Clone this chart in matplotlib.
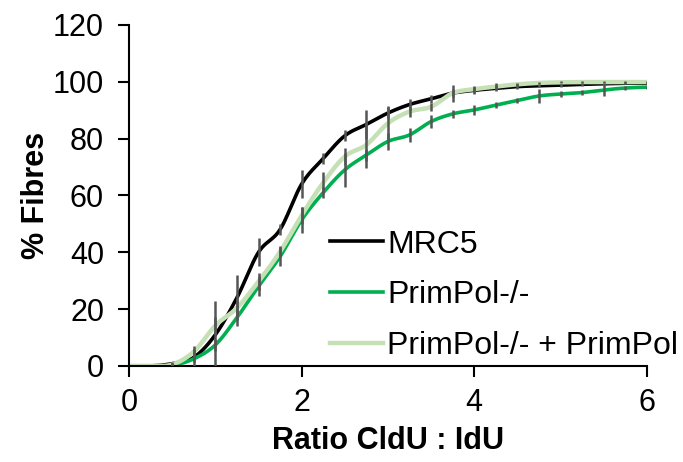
import numpy as np
import matplotlib
matplotlib.use("Agg")
import matplotlib.pyplot as plt

plt.rcParams["font.family"] = ["Liberation Sans", "DejaVu Sans"]

# ----------------------- data -----------------------
ratio = [0, 0.25, 0.5, 0.75, 1.0, 1.25, 1.5, 1.75, 2.0, 2.25, 2.5, 2.75, 3.0,
         3.25, 3.5, 3.75, 4.0, 4.25, 4.5, 4.75, 5.0, 5.25, 5.5, 5.75, 6.0]

mrc5 = [0, 0, 0.8, 3, 11, 24, 40, 48, 64, 73, 81, 85, 89,
        92, 94, 96, 97, 97.7, 98.3, 98.6, 98.8, 99.1, 99.3, 99.5, 99.5]
mrc5_err = [0, 0, 0.5, 3, 12, 8, 5, 2, 5, 2, 2, 5, 2,
            2, 1.5, 1.5, 1.2, 1, 0.8, 0.6, 0.5, 0.5, 0.4, 0.3, 0.3]

primpol = [0, 0, 0.2, 2.5, 7.4, 17, 28, 38.5, 51.4, 61, 69, 74.2, 79,
           81.3, 86, 88.7, 90.1, 91.8, 93.4, 95, 95.7, 96.2, 97.1, 97.8, 98.1]
primpol_err = [0, 0, 0.2, 1, 2, 3, 3.5, 3.5, 4.5, 2, 6, 2, 3,
               2.4, 2.4, 1.5, 1.8, 1, 0.8, 2.4, 1, 1, 2, 0.8, 0.5]

rescue = [0, 0, 0.5, 5, 14.2, 20.4, 29.7, 40.2, 53, 64.5, 73.7, 77.8, 85.4,
          89.5, 91.2, 96, 97.4, 98.3, 99.1, 99.6, 99.8, 99.9, 99.9, 99.9, 99.9]
rescue_err = [0, 0, 0.5, 2, 3, 3, 3, 2, 3, 3.8, 3, 8, 6,
              2, 1.5, 3, 1.2, 1.2, 0.6, 0.4, 0.3, 0.3, 0.3, 0.2, 0.2]

labels = ["MRC5", "PrimPol-/-", "PrimPol-/- + PrimPol"]
colors = ["black", "#00B050", "#C5E0B4"]


def smooth(x, y, n=20):
    # Catmull-Rom style smoothing, like Excel's "smoothed line"
    x = np.asarray(x, float)
    y = np.asarray(y, float)
    px = np.concatenate([[2 * x[0] - x[1]], x, [2 * x[-1] - x[-2]]])
    py = np.concatenate([[y[0]], y, [y[-1]]])
    xs, ys = [], []
    t = np.linspace(0, 1, n, endpoint=False)
    for i in range(1, len(px) - 2):
        for arr, out in ((px, xs), (py, ys)):
            p0, p1, p2, p3 = arr[i - 1], arr[i], arr[i + 1], arr[i + 2]
            out.extend(0.5 * ((2 * p1) + (-p0 + p2) * t
                              + (2 * p0 - 5 * p1 + 4 * p2 - p3) * t ** 2
                              + (-p0 + 3 * p1 - 3 * p2 + p3) * t ** 3))
    xs.append(x[-1])
    ys.append(y[-1])
    return np.array(xs), np.array(ys)


fig = plt.figure(figsize=(6.83, 4.62), dpi=100)
ax = fig.add_axes([0.189, 0.208, 0.758, 0.738])

series = [(mrc5, mrc5_err), (primpol, primpol_err), (rescue, rescue_err)]
widths = [2.6, 2.6, 3.2]
for (vals, err), lab, col, lw in zip(series, labels, colors, widths):
    sx, sy = smooth(ratio, vals)
    ax.plot(sx, sy, color=col, lw=lw, label=lab, zorder=2)

for vals, err in series:
    ax.errorbar(ratio, vals, yerr=err, fmt="none", ecolor="#555555",
                elinewidth=1.8, capsize=0, zorder=3)

ax.set_xlim(0, 6)
ax.set_ylim(0, 120)
ax.set_xticks([0, 2, 4, 6])
ax.set_yticks(range(0, 121, 20))

for s in ["top", "right"]:
    ax.spines[s].set_visible(False)
for s in ["left", "bottom"]:
    ax.spines[s].set_linewidth(1.5)
ax.tick_params(axis="both", direction="out", length=8, width=1.5,
               labelsize=22)
ax.tick_params(axis="y", pad=10)
ax.tick_params(axis="x", pad=8)

ax.set_xlabel("Ratio CldU : IdU", fontsize=22, fontweight="bold", labelpad=6)
ax.set_ylabel("% Fibres", fontsize=22, fontweight="bold", labelpad=1)

ax.legend(loc="upper left", bbox_to_anchor=(0.388, 0.40), frameon=False,
          fontsize=23, handlelength=1.65, handletextpad=0.15,
          labelspacing=0.65, borderpad=0, borderaxespad=0)

fig.savefig("out.png", dpi=100)
plt.close(fig)
